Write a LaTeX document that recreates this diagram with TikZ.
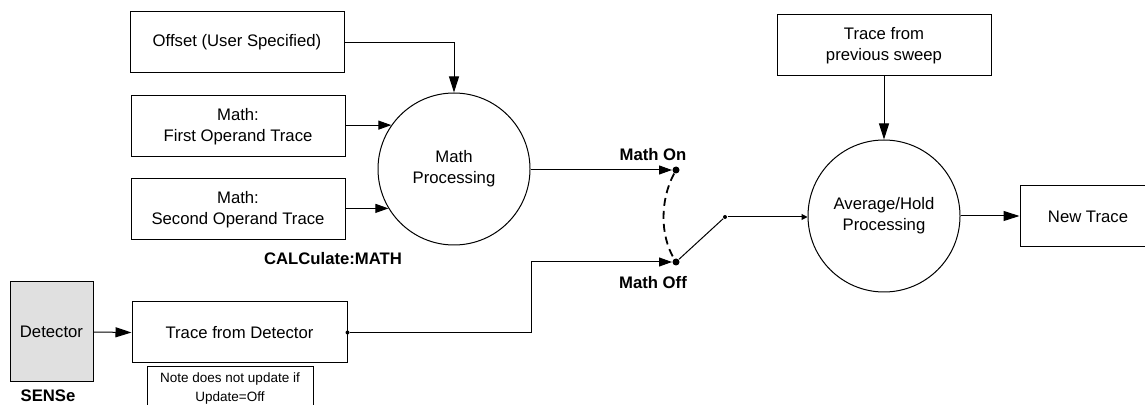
\documentclass[tikz,border=0pt]{standalone}
\usepackage{fontspec}
\setmainfont{Liberation Sans}
\usetikzlibrary{arrows.meta,calc}
\definecolor{detgray}{RGB}{224,224,224}
\newcommand\dgmfont{\fontsize{8.35pt}{10.5pt}\selectfont}
\newcommand\dgmnotefont{\fontsize{6.75pt}{9.5pt}\selectfont}
\begin{document}
\begin{tikzpicture}[x=0.5pt,y=-0.5pt,line width=0.5pt,
  box/.style={draw, inner sep=0pt, minimum width=107pt, minimum height=30.5pt, align=center, font=\dgmfont},
  circ/.style={draw, circle, inner sep=0pt, minimum size=76pt, align=center, font=\dgmfont},
  lbl/.style={inner sep=0pt, font=\dgmfont\bfseries},
  notebox/.style={draw, anchor=north, inner xsep=0pt, inner ysep=0pt, minimum width=83pt, text height=8pt, text depth=25pt, font=\dgmnotefont},
  dotb/.style={circle, fill, inner sep=0pt, minimum size=3.5pt},
  dotsm/.style={circle, fill, inner sep=0pt, minimum size=2pt},
  arr/.style={-{Triangle[length=8pt,width=5pt]}},
  arrm/.style={-{Triangle[length=6.5pt,width=4.5pt]}},
  arrs/.style={-{Triangle[length=3pt,width=3pt]}}]
\useasboundingbox (0,0) rectangle (1145,405);
% nodes
\node[box] (off) at (237,42.5) {Offset (User Specified)};
\node[box] (first) at (238,126.5) {Math:\\First Operand Trace};
\node[box] (second) at (238,209.5) {Math:\\Second Operand Trace};
\node[circ] (mp) at (454,169) {Math\\Processing};
\node[lbl] (calc) at (333,259) {CALCulate:MATH};
\node[box, fill=detgray, minimum width=41.5pt, minimum height=50pt] (det) at (51.5,332) {Detector};
\node[lbl] (sense) at (48,396) {SENSe};
\node[box, minimum width=107.5pt] (tfd) at (239.5,332.5) {Trace from Detector};
\node[notebox] (note) at (230,366) {\begin{tabular}[t]{@{}c@{}}Note does not update if\\Update=Off\end{tabular}};
\node[dotsm] (tfddot) at (tfd.east) {};
\node[dotb] (ondot) at (676,170) {};
\node[dotb] (offdot) at (676,262) {};
\node[lbl] (monl) at (653,155) {Math On};
\node[lbl] (moffl) at (653,283) {Math Off};
\node[dotsm] (junc) at (725,217) {};
\coordinate (bend) at (531,262);
\node[box] (prev) at (884,45.5) {Trace from\\previous sweep};
\node[circ] (avg) at (884,216) {Average/Hold\\Processing};
\node[box, minimum width=68pt] (nt) at (1088,216.5) {New Trace};
% connectors
\draw[arr] (off.east) -| (mp.north);
\draw[arrm] (first.east |- mp.145.5) -- (mp.145.5);
\draw[arrm] (second.east |- mp.211.8) -- (mp.211.8);
\draw[arrm] (mp.east |- ondot) -- (ondot.west);
\draw[arr] (det.east) -- (tfd.west);
\draw[arrm] (tfddot) -| (bend) -- (offdot.west);
\draw[line width=0.9pt, dash pattern=on 4pt off 2.5pt] (ondot) .. controls (660,200) and (660,235) .. (offdot);
\draw (offdot) -- (junc);
\draw[arrs] (junc) -- (junc -| avg.west);
\draw[arr] (prev.south) -- (avg.north);
\draw[arr] (avg.east) -- (avg.east -| nt.west);
\end{tikzpicture}
\end{document}
